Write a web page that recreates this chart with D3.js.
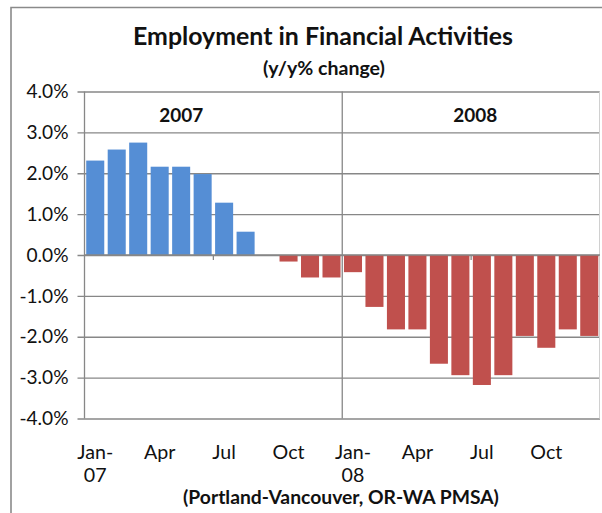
<!DOCTYPE html>
<html>
<head>
<meta charset="utf-8">
<script src="https://cdn.jsdelivr.net/npm/d3@7"></script>
<style>
  html, body { margin: 0; padding: 0; background: #fff; }
  svg { display: block; font-family: Lato, "Open Sans", sans-serif; }
</style>
</head>
<body>
<svg id="chart" width="602" height="513"></svg>
<script>
const months = ["Jan-07","Feb-07","Mar-07","Apr-07","May-07","Jun-07","Jul-07","Aug-07","Sep-07","Oct-07","Nov-07","Dec-07",
                "Jan-08","Feb-08","Mar-08","Apr-08","May-08","Jun-08","Jul-08","Aug-08","Sep-08","Oct-08","Nov-08","Dec-08"];
const values = [2.31, 2.58, 2.75, 2.16, 2.16, 1.98, 1.28, 0.57, null, -0.16, -0.55, -0.55,
                -0.42, -1.27, -1.82, -1.82, -2.66, -2.94, -3.18, -2.94, -1.98, -2.27, -1.82, -1.98];
const yTicks = [-4, -3, -2, -1, 0, 1, 2, 3, 4];
const xLabelMonths = ["Jan-07","Apr-07","Jul-07","Oct-07","Jan-08","Apr-08","Jul-08","Oct-08"];
const xLabelText = [["Jan-","07"],["Apr"],["Jul"],["Oct"],["Jan-","08"],["Apr"],["Jul"],["Oct"]];
const yearLabels = ["2007", "2008"];
const title = "Employment in Financial Activities";
const subtitle = "(y/y% change)";
const footer = "(Portland-Vancouver, OR-WA PMSA)";

(function () {
const svg = d3.select("#chart");
const pLeft = 84.5, pRight = 600, pTop = 91.5, pBottom = 418.5;
const gridColor = "#878787";

function fitSize(str, weight, targetW) {
  const t = svg.append("text").attr("font-size", 100).attr("font-weight", weight).text(str);
  const w = t.node().getComputedTextLength();
  t.remove();
  return 100 * targetW / w;
}

svg.append("path")
  .attr("d", "M11,520 L11,7.5 L610,7.5")
  .attr("fill", "none").attr("stroke", "#8a8a8a").attr("stroke-width", 1.6);

const pad = 0.16;
const x = d3.scaleBand().domain(months).range([pLeft, pRight]).paddingInner(pad).paddingOuter(pad / 2);
const y = d3.scaleLinear().domain([-4, 4]).range([pBottom, pTop]);

const tickFs = fitSize("4.0%", "normal", 42);
const yAxis = d3.axisLeft(y).tickValues(yTicks)
  .tickFormat(d => (d < 0 ? "-" : "") + Math.abs(d).toFixed(1) + "%")
  .tickSize(-(pRight - pLeft)).tickSizeOuter(0).tickPadding(16);
const gy = svg.append("g").attr("transform", `translate(${pLeft},0)`).call(yAxis);
gy.select(".domain").remove();
gy.selectAll(".tick line").attr("stroke", gridColor).attr("stroke-width", 1.3).attr("x1", -7);
gy.selectAll(".tick text").attr("font-size", tickFs).attr("fill", "#111").attr("font-family", "Lato, sans-serif");

svg.append("line").attr("x1", pRight - 0.5).attr("x2", pRight - 0.5).attr("y1", pTop).attr("y2", pBottom)
  .attr("stroke", "#d0d0d0").attr("stroke-width", 1);

svg.append("line").attr("x1", pLeft).attr("x2", pLeft).attr("y1", pTop).attr("y2", pBottom)
  .attr("stroke", gridColor).attr("stroke-width", 1.3);

const divX = x("Jan-08") - x.step() * pad / 2;
svg.append("line").attr("x1", divX).attr("x2", divX).attr("y1", pTop).attr("y2", pBottom)
  .attr("stroke", gridColor).attr("stroke-width", 1.3);

[6, 18].forEach(i => {
  const tx = x(months[i]) - x.step() * pad / 2;
  svg.append("line").attr("x1", tx).attr("x2", tx).attr("y1", y(0)).attr("y2", y(0) + 5)
    .attr("stroke", gridColor).attr("stroke-width", 1.3);
});

svg.append("g").selectAll("rect")
  .data(months.map((m, i) => ({ m, v: values[i] })).filter(d => d.v !== null))
  .join("rect")
  .attr("x", d => x(d.m))
  .attr("width", x.bandwidth())
  .attr("y", d => y(Math.max(0, d.v)))
  .attr("height", d => Math.abs(y(d.v) - y(0)))
  .attr("fill", d => d.v >= 0 ? "#558ED5" : "#C0504D");

svg.append("line").attr("x1", pLeft).attr("x2", pRight).attr("y1", y(0)).attr("y2", y(0))
  .attr("stroke", gridColor).attr("stroke-width", 1.3);

const yearFs = fitSize("2008", "bold", 44);
const yearX = [x("May-07") + x.bandwidth() / 2, divX + 133];
svg.selectAll(".year").data(yearLabels).join("text")
  .attr("class", "year")
  .attr("x", (d, i) => yearX[i])
  .attr("y", 121.5)
  .attr("text-anchor", "middle").attr("font-weight", "bold").attr("font-size", yearFs).attr("fill", "#111")
  .text(d => d);

const xFs = fitSize("Oct", "normal", 32);
const xl = svg.append("g");
xLabelMonths.forEach((m, i) => {
  const cx = x(m) + x.bandwidth() / 2;
  const t = xl.append("text").attr("x", cx).attr("y", 459)
    .attr("text-anchor", "middle").attr("font-size", xFs).attr("fill", "#111");
  xLabelText[i].forEach((line, j) => {
    t.append("tspan").attr("x", cx).attr("dy", j === 0 ? 0 : 23).text(line);
  });
});

svg.append("text").attr("x", 323).attr("y", 45).attr("text-anchor", "middle")
  .attr("font-weight", "bold").attr("font-size", fitSize(title, "bold", 380)).attr("fill", "#111").text(title);
svg.append("text").attr("x", 324).attr("y", 75).attr("text-anchor", "middle")
  .attr("font-weight", "bold").attr("font-size", fitSize(subtitle, "bold", 122)).attr("fill", "#111").text(subtitle);
svg.append("text").attr("x", 341).attr("y", 504).attr("text-anchor", "middle")
  .attr("font-weight", "bold").attr("font-size", fitSize(footer, "bold", 316)).attr("fill", "#111").text(footer);
})();
</script>
</body>
</html>
